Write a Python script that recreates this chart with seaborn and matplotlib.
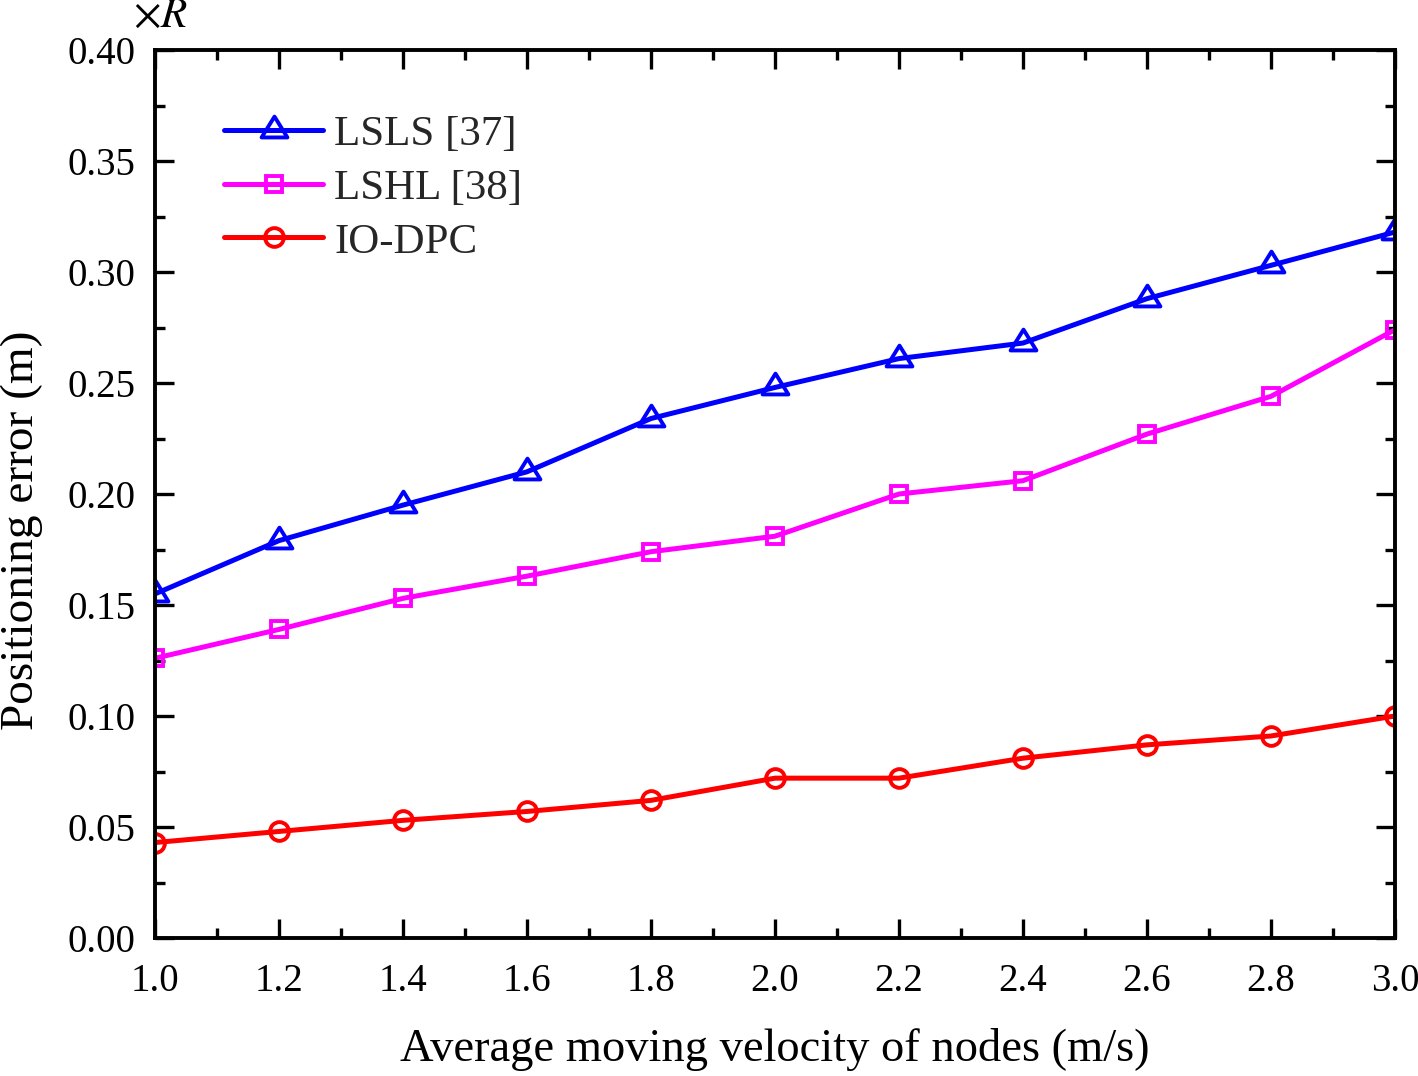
import numpy as np
import pandas as pd
import matplotlib
matplotlib.use("Agg")
import matplotlib.pyplot as plt
import seaborn as sns
from matplotlib.ticker import MultipleLocator, FormatStrFormatter
from matplotlib.path import Path

velocity = [1.0, 1.2, 1.4, 1.6, 1.8, 2.0, 2.2, 2.4, 2.6, 2.8, 3.0]
lsls = [0.155, 0.179, 0.195, 0.210, 0.234, 0.248, 0.261, 0.268, 0.288, 0.303, 0.318]
lshl = [0.126, 0.139, 0.153, 0.163, 0.174, 0.181, 0.200, 0.206, 0.227, 0.244, 0.274]
iodpc = [0.043, 0.048, 0.053, 0.057, 0.062, 0.072, 0.072, 0.081, 0.087, 0.091, 0.100]
series_names = ["LSLS [37]", "LSHL [38]", "IO-DPC"]
colors = ["#0000FF", "#FF00FF", "#FF0000"]

# Origin-style triangle: data point sits in the lower part of the triangle
tri = Path([(0, 14), (-13, -7), (13, -7), (0, 14)],
           [Path.MOVETO, Path.LINETO, Path.LINETO, Path.CLOSEPOLY])
markers = [tri, "s", "o"]
msizes = [20, 12, 13.5]

sns.set_theme(style="ticks")
plt.rcParams["font.family"] = ["Liberation Serif", "DejaVu Serif"]
plt.rcParams["mathtext.fontset"] = "stix"

fig = plt.figure(figsize=(14.18, 10.76), dpi=100)
ax = fig.add_axes([155/1418, 1-938/1076, (1395-155)/1418, (938-50)/1076])

df = pd.DataFrame({"v": velocity * 3,
                   "err": lsls + lshl + iodpc,
                   "method": sum([[n] * len(velocity) for n in series_names], [])})

for name, c, m, ms in zip(series_names, colors, markers, msizes):
    sub = df[df["method"] == name]
    sns.lineplot(data=sub, x="v", y="err", ax=ax, color=c, marker=m, markersize=ms,
                 markerfacecolor="none", markeredgecolor=c, markeredgewidth=2.8,
                 linewidth=3.6, label=name, clip_on=True)

ax.set_xlim(1.0, 3.0)
ax.set_ylim(0.0, 0.40)
ax.xaxis.set_major_locator(MultipleLocator(0.2))
ax.xaxis.set_minor_locator(MultipleLocator(0.1))
ax.yaxis.set_major_locator(MultipleLocator(0.05))
ax.yaxis.set_minor_locator(MultipleLocator(0.025))
ax.xaxis.set_major_formatter(FormatStrFormatter("%.1f"))
ax.yaxis.set_major_formatter(FormatStrFormatter("%.2f"))

for s in ax.spines.values():
    s.set_linewidth(2.8)
    s.set_color("black")
ax.tick_params(which="both", direction="in", top=True, right=True, width=2.4,
               color="black", labelsize=28, labelcolor="black")
ax.tick_params(which="major", length=14)
ax.tick_params(axis="x", which="major", pad=18)
ax.tick_params(axis="y", which="major", pad=14)
ax.tick_params(which="minor", length=7.5)

ax.set_xlabel("Average moving velocity of nodes (m/s)", fontsize=33.5, color="black")
ax.set_ylabel("Positioning error (m)", fontsize=34, color="black")
ax.xaxis.set_label_coords(0.5, -0.101)
ax.yaxis.set_label_coords(-0.0905, 0.459)

fig.text(133/1418, 1-17/1076, r"$\times R$", fontsize=31, ha="left", va="center", color="black")

leg = ax.legend(loc="upper left", bbox_to_anchor=(0.056, 0.927), frameon=False,
                fontsize=31, handlelength=2.3, handletextpad=0.25, labelspacing=0.34,
                borderpad=0, borderaxespad=0)

fig.savefig("out.png", dpi=100)
